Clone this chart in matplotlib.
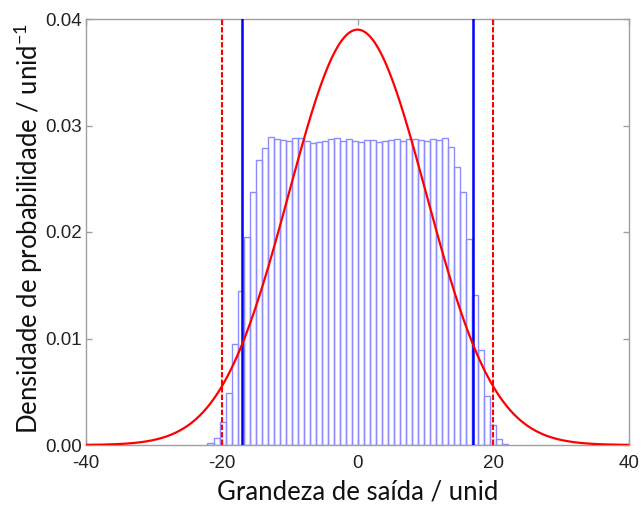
import numpy as np
import matplotlib
matplotlib.use("Agg")
import matplotlib.pyplot as plt

# Histogram of the simulated output quantity (50 bins)
bin_lo, bin_hi = -22.1, 22.2
hist_density = [
    0.00015, 0.00063, 0.0022, 0.0049, 0.00945, 0.0145, 0.0195, 0.0238, 0.0268, 0.0279,
    0.0289, 0.0287, 0.02864, 0.02858, 0.02886, 0.02879, 0.02854, 0.02833, 0.02842, 0.02854,
    0.0287, 0.02879, 0.02858, 0.02873, 0.02858, 0.02842, 0.02864, 0.02864, 0.02842, 0.02858,
    0.02864, 0.02873, 0.02857, 0.02873, 0.02873, 0.02864, 0.02857, 0.02873, 0.02864, 0.0288,
    0.0280, 0.02613, 0.02378, 0.0193, 0.0141, 0.0089, 0.0046, 0.0019, 0.00053, 0.0001,
]

# Normal approximation of the output
gauss_mu = 0.0
gauss_sigma = 10.1
gauss_peak = 0.0390

# Coverage interval limits
mc_limits = [-17.05, 17.05]       # from the simulated distribution
gum_limits = [-19.9, 19.9]        # from the normal approximation

x_ticks = [-40, -20, 0, 20, 40]
y_ticks = [0.00, 0.01, 0.02, 0.03, 0.04]

plt.rcParams["mathtext.fontset"] = "custom"
plt.rcParams["mathtext.rm"] = "Lato"

fig = plt.figure(figsize=(6.44, 5.14), dpi=100)
ax = fig.add_axes([86 / 644, 1 - 445 / 514, (629 - 86) / 644, (445 - 19) / 514])

edges = np.linspace(bin_lo, bin_hi, len(hist_density) + 1)
widths = np.diff(edges)
ax.bar(edges[:-1], hist_density, width=widths, align="edge",
       facecolor="none", edgecolor=(0.55, 0.55, 1.0), linewidth=1.0, zorder=2)

for xv in mc_limits:
    ax.axvline(xv, color="#0000ff", linewidth=1.8, zorder=3)
for xv in gum_limits:
    ax.axvline(xv, color="#ff0000", linewidth=1.5, linestyle=(0, (2.6, 1.0)), zorder=3)

xs = np.linspace(-40, 40, 801)
ys = gauss_peak * np.exp(-0.5 * ((xs - gauss_mu) / gauss_sigma) ** 2)
ax.plot(xs, ys, color="#ff0000", linewidth=1.6, zorder=4)

ax.set_xlim(-40, 40)
ax.set_ylim(0, 0.04)
ax.set_xticks(x_ticks)
ax.set_yticks(y_ticks)
ax.set_xticklabels([str(t) for t in x_ticks])
ax.set_yticklabels([f"{t:.2f}" for t in y_ticks])

for s in ax.spines.values():
    s.set_color("#a0a0a0")
    s.set_linewidth(1.0)
ax.tick_params(direction="in", length=4, width=1, color="#a0a0a0",
               top=True, right=True, labelsize=13.5, labelcolor="#222222", pad=3)
ax.tick_params(axis="x", pad=7)
for lab in ax.get_xticklabels() + ax.get_yticklabels():
    lab.set_fontfamily("Liberation Sans")

ax.set_xlabel("Grandeza de saída / unid", fontfamily="Lato", fontsize=18.5,
              color="#111111")
ax.set_ylabel("Densidade de probabilidade / unid$^{-1}$", fontfamily="Lato",
              fontsize=18.5, color="#111111")
ax.xaxis.set_label_coords(0.5, (445 - 492) / 426)
ax.xaxis.label.set_va("center")
ax.yaxis.set_label_coords((28 - 86) / 543, (445 - 228) / 426)
ax.yaxis.label.set_va("center")

fig.savefig("out.png", dpi=100)
